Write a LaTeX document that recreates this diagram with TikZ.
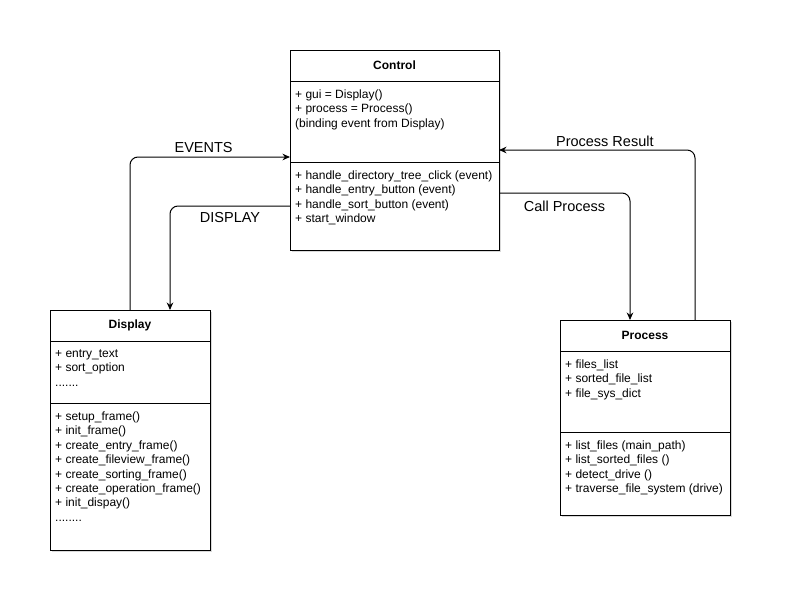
\documentclass[tikz,border=0pt]{standalone}
\usepackage{fontspec}
\setmainfont{Liberation Sans}
\usetikzlibrary{positioning,arrows.meta,shadows}

\tikzset{
  classhead/.style={draw, fill=white, outer sep=0pt, inner sep=0pt, line width=0.8pt,
    drop shadow={shadow xshift=2pt, shadow yshift=-2pt, fill=black, opacity=0.15},
    font=\bfseries\fontsize{12}{14.4}\selectfont},
  classpart/.style={draw, fill=white, outer sep=0pt, inner sep=0pt, line width=0.8pt,
    drop shadow={shadow xshift=2pt, shadow yshift=-2pt, fill=black, opacity=0.15}},
  members/.style={anchor=north west, align=left, inner xsep=5pt, inner ysep=8.5pt,
    font=\fontsize{12}{14.4}\selectfont},
  flow/.style={-{Stealth[length=7.5pt,width=6.5pt]}, rounded corners=8pt, line width=1pt},
  flowlabel/.style={font=\fontsize{14.5}{17}\selectfont},
}

\begin{document}
\begin{tikzpicture}[x=1pt,y=-1pt]
    \useasboundingbox[fill=white] (0,0) rectangle (792,615);

    % Control class
    \node[classhead, minimum width=209pt, minimum height=31pt] (ctrlhead) at (394.5,65.5) {Control};
    \node[classpart, minimum width=209pt, minimum height=81pt, below=0pt of ctrlhead] (ctrlattr) {};
    \node[classpart, minimum width=209pt, minimum height=88pt, below=0pt of ctrlattr] (ctrlmeth) {};
    \node[members] (ctrlattrtext) at (ctrlattr.north west) {+ gui = Display()\\+ process = Process()\\(binding event from Display)};
    \node[members] (ctrlmethtext) at (ctrlmeth.north west) {+ handle\_directory\_tree\_click (event)\\+ handle\_entry\_button (event)\\+ handle\_sort\_button (event)\\+ start\_window};

    % Display class
    \node[classhead, minimum width=160pt, minimum height=31pt] (disphead) at (130,325.5) {Display};
    \node[classpart, minimum width=160pt, minimum height=62pt, below=0pt of disphead] (dispattr) {};
    \node[classpart, minimum width=160pt, minimum height=147pt, below=0pt of dispattr] (dispmeth) {};
    \node[members] (dispattrtext) at (dispattr.north west) {+ entry\_text\\+ sort\_option\\.......};
    \node[members] (dispmethtext) at (dispmeth.north west) {+ setup\_frame()\\+ init\_frame()\\+ create\_entry\_frame()\\+ create\_fileview\_frame()\\+ create\_sorting\_frame()\\+ create\_operation\_frame()\\+ init\_dispay()\\........};

    % Process class
    \node[classhead, minimum width=170pt, minimum height=31pt] (prochead) at (645,335.5) {Process};
    \node[classpart, minimum width=170pt, minimum height=81pt, below=0pt of prochead] (procattr) {};
    \node[classpart, minimum width=170pt, minimum height=83pt, below=0pt of procattr] (procmeth) {};
    \node[members] (procattrtext) at (procattr.north west) {+ files\_list\\+ sorted\_file\_list\\+ file\_sys\_dict};
    \node[members] (procmethtext) at (procmeth.north west) {+ list\_files (main\_path)\\+ list\_sorted\_files ()\\+ detect\_drive ()\\+ traverse\_file\_system (drive)};

    % connectors
    \draw[flow] (disphead.north) |- node[flowlabel, pos=0.73, above=1pt] (lblevents) {EVENTS} ([yshift=5pt]ctrlattr.south west);
    \draw[flow] (ctrlmeth.west) -| node[flowlabel, pos=0.25, below=3pt] (lbldisplay) {DISPLAY} ([xshift=40pt]disphead.north);
    \draw[flow] ([yshift=13pt]ctrlmeth.east) -| node[flowlabel, pos=0.25, below=4pt] (lblcall) {Call Process} ([xshift=-15pt]prochead.north);
    \draw[flow] ([xshift=50pt]prochead.north) |- node[flowlabel, pos=0.73, above=0pt] (lblresult) {Process Result} ([yshift=12pt]ctrlattr.south east);
\end{tikzpicture}
\end{document}
